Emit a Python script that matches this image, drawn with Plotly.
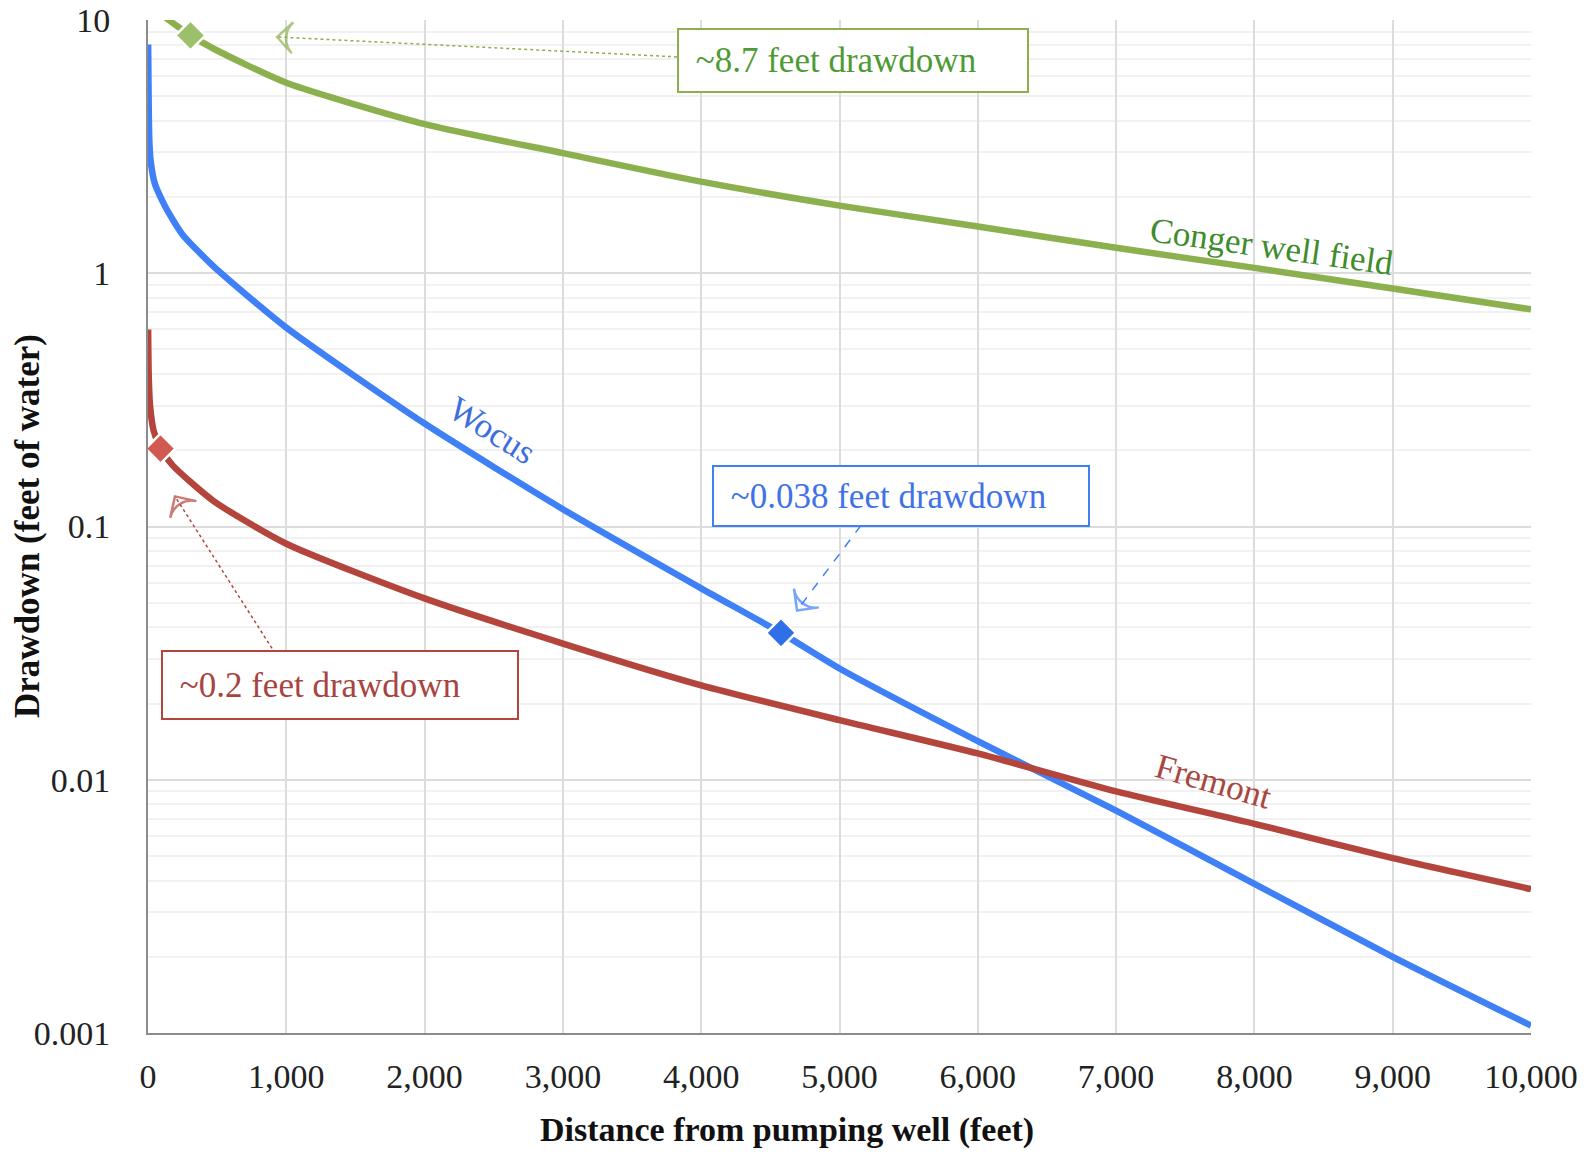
import numpy as np
import plotly.graph_objects as go

# ---- data ----
conger_x = [40, 150, 307, 475, 1000, 2000, 3000, 4000, 5000, 6000, 7000, 8000, 9000, 10000]
conger_y = [11.2, 10.0, 8.7, 7.7, 5.65, 3.88, 2.98, 2.30, 1.85, 1.53, 1.26, 1.05, 0.87, 0.72]

wocus_x = [1, 5, 10, 20, 50, 100, 150, 250, 470, 1000, 2000, 3000, 4000, 4577, 5000, 6000, 7000, 8000, 9000, 10000]
wocus_y = [8.0, 4.6, 3.3, 2.75, 2.25, 1.95, 1.73, 1.42, 1.07, 0.61, 0.255, 0.117, 0.057, 0.038, 0.0275, 0.0142, 0.00755, 0.00388, 0.0020, 0.00107]

fremont_x = [1, 5, 15, 40, 90, 180, 475, 1000, 2000, 3000, 4000, 5000, 6000, 7000, 8000, 9000, 10000]
fremont_y = [0.6, 0.4, 0.3, 0.24, 0.203, 0.174, 0.126, 0.0855, 0.052, 0.0345, 0.0236, 0.0172, 0.0127, 0.0090, 0.0067, 0.0049, 0.0037]

# highlighted points
conger_pt = (307, 8.7)
wocus_pt = (4577, 0.038)
fremont_pt = (90, 0.203)

x_ticks = [0, 1000, 2000, 3000, 4000, 5000, 6000, 7000, 8000, 9000, 10000]
y_ticks = [0.001, 0.01, 0.1, 1, 10]
y_ticktext = ["0.001", "0.01", "0.1", "1", "10"]

# annotation arrows (data coords: start at box, end at arrow tip)
green_arrow = ([3825, 933], [7.15, 8.57])
blue_arrow = ([5155, 4693], [0.101, 0.0466])
red_arrow = ([897, 195], [0.033, 0.1315])

GREEN = "#8db04f"
GREEN_TXT = "#4e9a34"
BLUE = "#3f80f7"
BLUE_TXT = "#3f72e6"
RED = "#b3453d"
RED_TXT = "#a8443f"
FONT = "Liberation Serif"

fig = go.Figure()

for xs, ys, col in [(conger_x, conger_y, GREEN), (wocus_x, wocus_y, BLUE), (fremont_x, fremont_y, RED)]:
    fig.add_trace(go.Scatter(x=xs, y=ys, mode="lines", line=dict(color=col, width=6.5, shape="spline", smoothing=0.6),
                             showlegend=False, hoverinfo="skip"))

for (px, py), col in [(conger_pt, "#9cc069"), (wocus_pt, "#2f6fe8"), (fremont_pt, "#d05a52")]:
    fig.add_trace(go.Scatter(x=[px], y=[py], mode="markers",
                             marker=dict(symbol="diamond", size=23, color=col, line=dict(color="white", width=2.5)),
                             showlegend=False, hoverinfo="skip"))

for (ax, ay), col, dash in [(green_arrow, GREEN, "dot"), (blue_arrow, BLUE, "dash"), (red_arrow, RED, "dot")]:
    fig.add_trace(go.Scatter(x=ax, y=ay, mode="lines", line=dict(color=col, width=1.5, dash=dash),
                             showlegend=False, hoverinfo="skip"))
    fig.add_trace(go.Scatter(x=ax, y=ay, mode="markers",
                             marker=dict(symbol="arrow-wide-open", size=[0, 22], angleref="previous",
                                         color=col, line=dict(color=col, width=2.5)),
                             showlegend=False, hoverinfo="skip"))

minor_vals = [m * 10.0 ** e for e in range(-3, 1) for m in range(2, 10)]

fig.update_xaxes(range=[0, 10000], tickvals=x_ticks, tickformat=",", showgrid=True, gridcolor="#dcdcdc",
                 gridwidth=1.5, showline=True, linecolor="#8c8c8c", linewidth=2, zeroline=False,
                 ticks="outside", ticklen=12, tickcolor="rgba(0,0,0,0)", automargin=False,
                 ticklabeloverflow="allow",
                 tickfont=dict(family=FONT, size=34, color="#222"))
fig.update_yaxes(type="log", range=[-3, 1.0000001], tickvals=y_ticks, ticktext=y_ticktext, showgrid=True,
                 gridcolor="#dcdcdc", gridwidth=1.5, showline=True, linecolor="#8c8c8c", linewidth=2,
                 zeroline=False, ticks="outside", ticklen=29, tickcolor="rgba(0,0,0,0)", automargin=False,
                 ticklabeloverflow="allow",
                 minor=dict(tickvals=minor_vals, showgrid=True, gridcolor="#f1f1f1", gridwidth=1.5, ticks=""),
                 tickfont=dict(family=FONT, size=34, color="#222"))

NB = "\u00a0"
annotations = [
    dict(xref="paper", yref="paper", x=0.5095, y=0.960, xanchor="center", yanchor="middle",
         text=NB + "~8.7 feet drawdown", showarrow=False,
         font=dict(family=FONT, size=35, color=GREEN_TXT), bordercolor=GREEN, borderwidth=2, borderpad=8,
         bgcolor="white", width=332, height=45, align="left"),
    dict(xref="paper", yref="paper", x=0.5445, y=0.5306, xanchor="center", yanchor="middle",
         text=NB + "~0.038 feet drawdown", showarrow=False,
         font=dict(family=FONT, size=35, color=BLUE_TXT), bordercolor=BLUE, borderwidth=2, borderpad=8,
         bgcolor="white", width=358, height=42, align="left"),
    dict(xref="paper", yref="paper", x=0.139, y=0.344, xanchor="center", yanchor="middle",
         text=NB + "~0.2 feet drawdown", showarrow=False,
         font=dict(family=FONT, size=35, color=RED_TXT), bordercolor=RED, borderwidth=2, borderpad=8,
         bgcolor="white", width=338, height=50, align="left"),
    dict(xref="x", yref="y", x=8120, y=0.104, text="Conger well field", showarrow=False, textangle=8,
         font=dict(family=FONT, size=35, color="#3e8c2c")),
    dict(xref="x", yref="y", x=2487, y=-0.62, text="Wocus", showarrow=False, textangle=32,
         font=dict(family=FONT, size=35, color="#3d6ee0")),
    dict(xref="x", yref="y", x=7703, y=-2.008, text="Fremont", showarrow=False, textangle=16,
         font=dict(family=FONT, size=35, color="#a84640")),
    # axis titles
    dict(xref="paper", yref="paper", x=0.462, y=-0.096, xanchor="center", yanchor="middle",
         text="<b>Distance from pumping well (feet)</b>", showarrow=False,
         font=dict(family=FONT, size=34, color="#111")),
    dict(xref="paper", yref="paper", x=-0.0868, y=0.5005, xanchor="center", yanchor="middle",
         text="<b>Drawdown (feet of water)</b>", showarrow=False, textangle=-90,
         font=dict(family=FONT, size=35, color="#111")),
]

fig.update_layout(width=1587, height=1152, margin=dict(l=148, r=56, t=20, b=119),
                  paper_bgcolor="white", plot_bgcolor="white", annotations=annotations,
                  font=dict(family=FONT))

fig.write_html("out.html", config={"displayModeBar": False},
               post_script="document.body.style.margin='0';")
